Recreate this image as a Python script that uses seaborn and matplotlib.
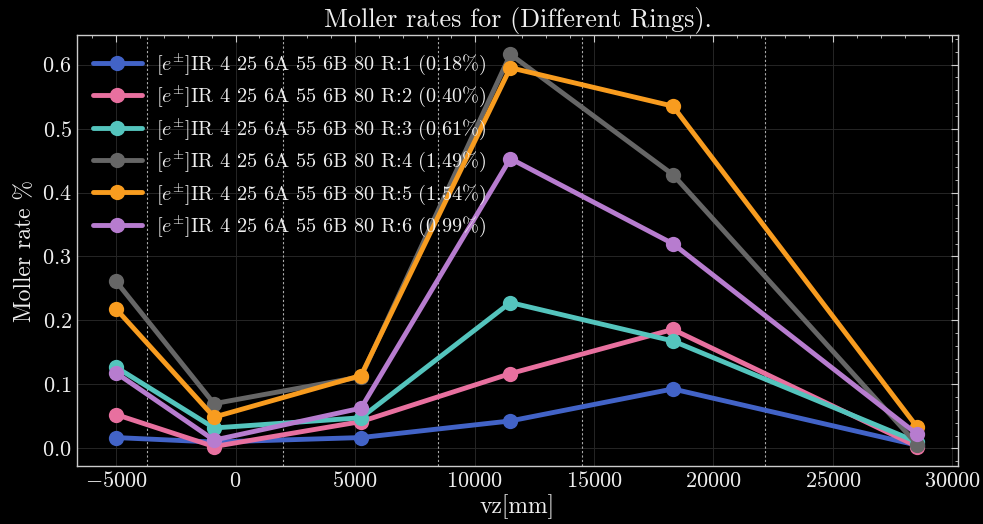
import matplotlib
matplotlib.use("Agg")
import matplotlib.pyplot as plt
import seaborn as sns
import pandas as pd
from matplotlib.ticker import AutoMinorLocator

# Longitudinal vertex positions of the samples (mm)
vz = [-5000, -900, 5250, 11500, 18300, 28530]

# Moller rate (%) per ring
ring1 = [0.017, 0.010, 0.017, 0.043, 0.093, 0.005]
ring2 = [0.053, 0.003, 0.042, 0.117, 0.186, 0.003]
ring3 = [0.127, 0.032, 0.048, 0.228, 0.168, 0.010]
ring4 = [0.261, 0.070, 0.112, 0.616, 0.428, 0.006]
ring5 = [0.218, 0.049, 0.114, 0.595, 0.535, 0.033]
ring6 = [0.118, 0.013, 0.063, 0.453, 0.320, 0.022]

rings = [ring1, ring2, ring3, ring4, ring5, ring6]
ring_names = ["1", "2", "3", "4", "5", "6"]
colors = ["#4263c7", "#e8709f", "#54c4bd", "#666666", "#f89c1f", "#b77ccf"]

# Detector boundaries along z (mm)
boundaries = [-3700, 2000, 8470, 14480, 22150]

prefix = r"[$e^{\pm}$]IR 4 25 6A 55 6B 80"

rows = []
labels = []
for name, vals in zip(ring_names, rings):
    lab = f"{prefix} R:{name} ({sum(vals):.2f}%)"
    labels.append(lab)
    for z, v in zip(vz, vals):
        rows.append({"vz": z, "rate": v, "ring": lab})
df = pd.DataFrame(rows)

sns.set_theme(style="dark")
plt.style.use("dark_background")
plt.rcParams.update({
    "font.family": ["cmr10"],
    "mathtext.fontset": "cm",
    "axes.formatter.use_mathtext": True,
    "axes.unicode_minus": True,
    "xtick.direction": "in",
    "ytick.direction": "in",
    "xtick.top": True,
    "ytick.right": True,
    "xtick.minor.visible": True,
    "ytick.minor.visible": True,
    "axes.edgecolor": "#cccccc",
    "axes.linewidth": 1.0,
})

fig, ax = plt.subplots(figsize=(9.83, 5.24), dpi=100)
fig.patch.set_facecolor("black")
ax.set_facecolor("black")

ax.grid(True, color="#262626", linewidth=0.7)
ax.set_axisbelow(True)

for b in boundaries:
    ax.axvline(b, color="#aaaaaa", linestyle=(0, (2, 2)), linewidth=0.8, zorder=1)

sns.lineplot(data=df, x="vz", y="rate", hue="ring", hue_order=labels,
             palette=colors, marker="o", markersize=11, linewidth=3.5,
             markeredgewidth=0, ax=ax, zorder=3)

ax.set_xlim(-6650, 30250)
ax.set_ylim(-0.028, 0.646)
ax.set_xticks([-5000, 0, 5000, 10000, 15000, 20000, 25000, 30000])
ax.set_yticks([0.0, 0.1, 0.2, 0.3, 0.4, 0.5, 0.6])
ax.xaxis.set_minor_locator(AutoMinorLocator(5))
ax.yaxis.set_minor_locator(AutoMinorLocator(5))
ax.tick_params(which="major", length=5, width=0.8, color="#cccccc", labelsize=16, labelcolor="#eeeeee")
ax.tick_params(which="minor", length=2.5, width=0.6, color="#cccccc")

ax.set_xlabel("vz[mm]", fontsize=17, color="#eeeeee", labelpad=2)
ax.set_ylabel("Moller rate %", fontsize=17, color="#eeeeee", labelpad=4)
ax.set_title("Moller rates for (Different Rings).", fontsize=18.8, color="#eeeeee", pad=6)

leg = ax.legend(loc="upper left", frameon=False, fontsize=14.6, handlelength=2.4,
                labelspacing=0.33, borderaxespad=0.4, handletextpad=0.7)
for t in leg.get_texts():
    t.set_color("#eeeeee")

fig.subplots_adjust(left=0.078, right=0.975, top=0.933, bottom=0.11)
fig.savefig("out.png", dpi=100, facecolor="black")
